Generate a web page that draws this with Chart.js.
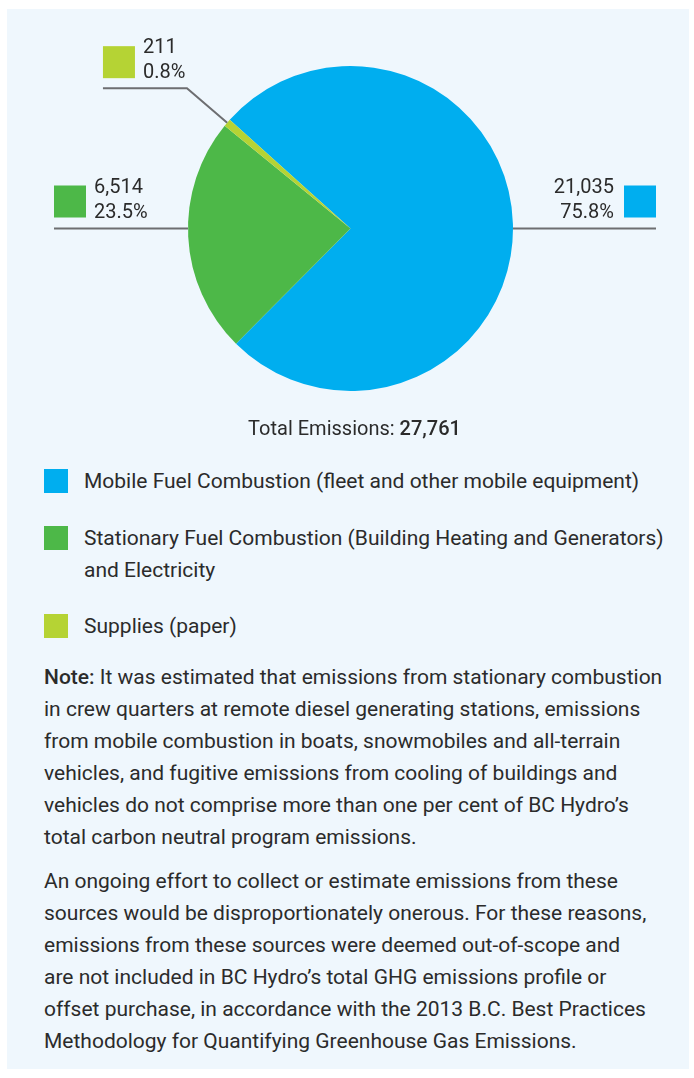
<!DOCTYPE html>
<html>
<head>
<meta charset="utf-8">
<script src="https://cdn.jsdelivr.net/npm/chart.js@4"></script>
<style>
    body {
        margin: 0;
        background: #ffffff;
        font-family: Roboto, "Noto Sans", sans-serif;
        color: #2b2b2b;
    }
    .panel {
        position: absolute;
        left: 7px;
        top: 9px;
        width: 682px;
        height: 1060px;
        background: #eff7fd;
    }
    #emissionsChart {
        position: absolute;
        left: 0;
        top: 0;
    }
    .legend-row {
        position: absolute;
        left: 84px;
        font-size: 21px;
        line-height: 32px;
        white-space: nowrap;
    }
    .swatch {
        position: absolute;
        left: -40px;
        top: 4px;
        width: 24px;
        height: 24px;
    }
    .note {
        position: absolute;
        left: 44px;
        font-size: 21px;
        line-height: 32px;
        white-space: nowrap;
    }
</style>
</head>
<body>
<div class="panel"></div>
<canvas id="emissionsChart" width="694" height="450"></canvas>

<div class="legend-row" id="legendRow0" style="top:465px"><span class="swatch"></span></div>
<div class="legend-row" id="legendRow1" style="top:522px"><span class="swatch"></span></div>
<div class="legend-row" id="legendRow2" style="top:610px"><span class="swatch"></span></div>

<div class="note" style="top:661px">
    <b style="font-weight:500">Note:</b> It was estimated that emissions from stationary combustion<br>
    in crew quarters at remote diesel generating stations, emissions<br>
    from mobile combustion in boats, snowmobiles and all-terrain<br>
    vehicles, and fugitive emissions from cooling of buildings and<br>
    vehicles do not comprise more than one per cent of BC Hydro’s<br>
    total carbon neutral program emissions.
</div>
<div class="note" style="top:865px">
    An ongoing effort to collect or estimate emissions from these<br>
    sources would be disproportionately onerous. For these reasons,<br>
    emissions from these sources were deemed out-of-scope and<br>
    are not included in BC Hydro’s total GHG emissions profile or<br>
    offset purchase, in accordance with the 2013 B.C. Best Practices<br>
    Methodology for Quantifying Greenhouse Gas Emissions.
</div>

<script>
// data
const categories = [
    'Mobile Fuel Combustion (fleet and other mobile equipment)',
    'Stationary Fuel Combustion (Building Heating and Generators)<br>and Electricity',
    'Supplies (paper)'
];
const emissions = [21035, 6514, 211];
const sliceColors = ['#00aeef', '#4db848', '#b5d334'];
const totalEmissions = 27761;

const lineColor = '#6d6e71';
const textColor = '#2b2b2b';
const labelFont = '20px Roboto, "Noto Sans", sans-serif';

// legend rows
categories.forEach((name, i) => {
    const row = document.getElementById('legendRow' + i);
    row.querySelector('.swatch').style.background = sliceColors[i];
    row.insertAdjacentHTML('beforeend', name);
});

function fmt(n) {
    return n.toLocaleString('en-US');
}

// callouts: leader line, colour square and value / percent
const calloutPlugin = {
    id: 'callouts',
    afterDatasetsDraw(chart) {
        const c = chart.ctx;
        const arcs = chart.getDatasetMeta(0).data;
        const sum = emissions.reduce((a, b) => a + b, 0);
        const first = arcs[0].getProps(['x', 'y', 'outerRadius']);
        const cx = first.x, cy = first.y, R = first.outerRadius;

        c.save();
        c.strokeStyle = lineColor;
        c.lineWidth = 2;
        c.font = labelFont;
        c.fillStyle = textColor;

        const drawBox = (i, x, y, lines, align) => {
            c.fillStyle = sliceColors[i];
            c.fillRect(x, y, 32, 32);
            c.fillStyle = textColor;
            c.textAlign = align;
            c.textBaseline = 'alphabetic';
            const tx = align === 'left' ? x + 40 : x - 10;
            c.fillText(lines[0], tx, y + 32 - 25);
            c.fillText(lines[1], tx, y + 32);
        };
        const labelFor = i => [fmt(emissions[i]), (emissions[i] * 100 / sum).toFixed(1) + '%'];

        // blue: right side
        let endX = cx + R + 143;
        c.beginPath();
        c.moveTo(cx + R, cy);
        c.lineTo(endX, cy);
        c.stroke();
        drawBox(0, endX - 32, cy - 11 - 32, labelFor(0), 'right');

        // green: left side
        endX = cx - R - 134;
        c.beginPath();
        c.moveTo(cx - R, cy);
        c.lineTo(endX, cy);
        c.stroke();
        drawBox(1, endX, cy - 11 - 32, labelFor(1), 'left');

        // lime: elbow from slice middle
        const p = arcs[2].getProps(['startAngle', 'endAngle']);
        const mid = (p.startAngle + p.endAngle) / 2;
        const ex = cx + Math.cos(mid) * R, ey = cy + Math.sin(mid) * R;
        const kx = cx + Math.cos(mid) * (R + 53), ky = cy + Math.sin(mid) * (R + 53);
        endX = kx - 84;
        c.beginPath();
        c.moveTo(ex, ey);
        c.lineTo(kx, ky);
        c.lineTo(endX, ky);
        c.stroke();
        drawBox(2, endX, ky - 10 - 32, labelFor(2), 'left');

        // total
        const a = 'Total Emissions: ';
        const b = fmt(totalEmissions);
        const boldFont = '500 20px Roboto, "Noto Sans", sans-serif';
        c.font = labelFont;
        const wa = c.measureText(a).width;
        c.font = boldFont;
        const wb = c.measureText(b).width;
        const sx = cx + 4 - (wa + wb) / 2;
        c.textAlign = 'left';
        c.fillStyle = textColor;
        c.font = labelFont;
        c.fillText(a, sx, 435);
        c.font = boldFont;
        c.fillText(b, sx + wa, 435);
        c.restore();
    }
};

new Chart(document.getElementById('emissionsChart'), {
    type: 'pie',
    data: {
        labels: categories,
        datasets: [{
            data: emissions,
            backgroundColor: sliceColors,
            borderWidth: 0,
            hoverOffset: 0
        }]
    },
    options: {
        responsive: false,
        animation: false,
        rotation: -48,
        layout: {
            padding: { left: 188, right: 181, top: 66, bottom: 59 }
        },
        plugins: {
            legend: { display: false },
            tooltip: { enabled: false }
        }
    },
    plugins: [calloutPlugin]
});
</script>
</body>
</html>
